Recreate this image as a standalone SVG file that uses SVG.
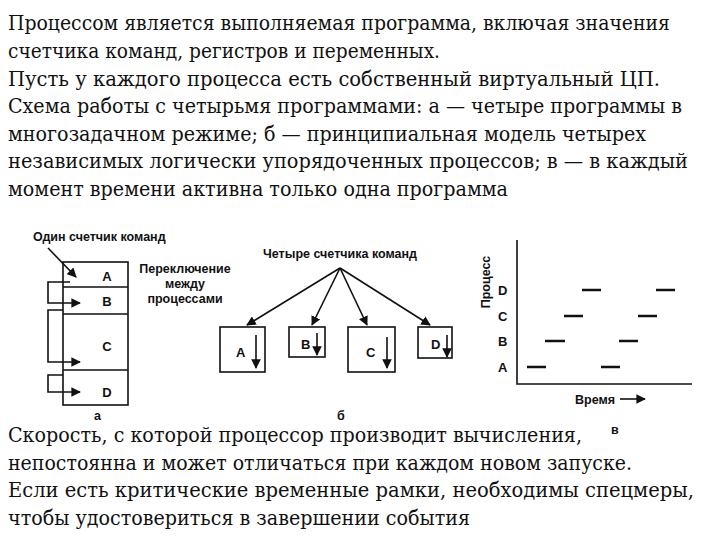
<svg xmlns="http://www.w3.org/2000/svg" width="720" height="540" viewBox="0 0 720 540">
<defs>
<style>
.t{font-family:"DejaVu Serif","Liberation Serif",serif;font-size:20px;fill:#111}
.s{font-family:"Liberation Sans",Arial,sans-serif;font-size:12.5px;font-weight:bold;fill:#111}
.l{font-family:"Liberation Sans",Arial,sans-serif;font-size:13px;font-weight:bold;fill:#111}
.b{fill:#fff;stroke:#111;stroke-width:1.6}
.c{fill:none;stroke:#111;stroke-width:1.6}
</style>
<marker id="ah" viewBox="0 0 10 10" refX="9" refY="5" markerWidth="6" markerHeight="6" orient="auto"><path d="M0,0L10,5L0,10z" fill="#111"/></marker>
</defs>
<rect width="720" height="540" fill="#fff"/>
<g id="text-top" class="t">
<text x="8" y="30" textLength="662" lengthAdjust="spacingAndGlyphs">Процессом является выполняемая программа, включая значения</text>
<text x="8" y="58" textLength="432" lengthAdjust="spacingAndGlyphs">счетчика команд, регистров и переменных.</text>
<text x="8" y="86" textLength="652" lengthAdjust="spacingAndGlyphs">Пусть у каждого процесса есть собственный виртуальный ЦП.</text>
<text x="8" y="113" textLength="674" lengthAdjust="spacingAndGlyphs">Схема работы с четырьмя программами: а — четыре программы в</text>
<text x="8" y="141" textLength="638" lengthAdjust="spacingAndGlyphs">многозадачном режиме; б — принципиальная модель четырех</text>
<text x="8" y="168" textLength="680" lengthAdjust="spacingAndGlyphs">независимых логически упорядоченных процессов; в — в каждый</text>
<text x="8" y="196" textLength="500" lengthAdjust="spacingAndGlyphs">момент времени активна только одна программа</text>
</g>
<g id="diagram-a">
<text class="s" x="33" y="241">Один счетчик команд</text>
<rect class="b" x="63" y="262" width="65" height="143"/>
<path class="c" d="M63,287H128M63,314H128M63,370H128"/>
<text class="l" x="107" y="281" text-anchor="middle">A</text>
<text class="l" x="107" y="306" text-anchor="middle">B</text>
<text class="l" x="107" y="351" text-anchor="middle">C</text>
<text class="l" x="107" y="397" text-anchor="middle">D</text>
<text class="s" x="185" y="273" text-anchor="middle">Переключение</text>
<text class="s" x="185" y="288" text-anchor="middle">между</text>
<text class="s" x="185" y="303" text-anchor="middle">процессами</text>
</g>
<g id="diagram-b">
<text class="s" x="340" y="258" text-anchor="middle">Четыре счетчика команд</text>
<rect class="b" x="220" y="327" width="45" height="45"/>
<rect class="b" x="289" y="327" width="36" height="30"/>
<rect class="b" x="348" y="327" width="47" height="45"/>
<rect class="b" x="418" y="327" width="34" height="31"/>
<text class="l" x="236" y="357">A</text>
<text class="l" x="301" y="349">B</text>
<text class="l" x="366" y="357">C</text>
<text class="l" x="431" y="349">D</text>
</g>
<g id="diagram-c">
<path class="c" d="M517,240V384H692"/>
<text class="s" transform="translate(490,282) rotate(-90)" text-anchor="middle">Процесс</text>
<text class="l" x="498" y="295">D</text>
<text class="l" x="498" y="321">C</text>
<text class="l" x="498" y="346">B</text>
<text class="l" x="498" y="372">A</text>
<path stroke="#111" stroke-width="2.4" d="M527,367h19M601,367h19M545,341h20M619,341h19M564,316h19M638,316h19M582,290h19M656,290h19"/>
<text class="s" x="575" y="404">Время</text>
</g>
<g id="connectors" class="c">
<path d="M48,248L76,277" marker-end="url(#ah)"/>
<path d="M70,282H48V303H80" marker-end="url(#ah)"/>
<path d="M63,310H48V362H80" marker-end="url(#ah)"/>
<path d="M63,375H48V392H80" marker-end="url(#ah)"/>
<path d="M340,268L247,325" marker-end="url(#ah)"/>
<path d="M340,268L312,325" marker-end="url(#ah)"/>
<path d="M340,268L367,325" marker-end="url(#ah)"/>
<path d="M340,268L430,325" marker-end="url(#ah)"/>
<path d="M256,335V368" marker-end="url(#ah)"/>
<path d="M317,333V355" marker-end="url(#ah)"/>
<path d="M387,337V368" marker-end="url(#ah)"/>
<path d="M447,335V357" marker-end="url(#ah)"/>
<path d="M620,399H645" marker-end="url(#ah)"/>
</g>
<g id="captions" class="s" font-size="11">
<text x="94" y="420">а</text>
<text x="337" y="420">б</text>
<text x="611" y="434">в</text>
</g>
<g id="text-bottom" class="t">
<text x="8" y="442" textLength="574" lengthAdjust="spacingAndGlyphs">Скорость, с которой процессор производит вычисления,</text>
<text x="8" y="470" textLength="624" lengthAdjust="spacingAndGlyphs">непостоянна и может отличаться при каждом новом запуске.</text>
<text x="8" y="497" textLength="686" lengthAdjust="spacingAndGlyphs">Если есть критические временные рамки, необходимы спецмеры,</text>
<text x="8" y="525" textLength="462" lengthAdjust="spacingAndGlyphs">чтобы удостовериться в завершении события</text>
</g>
</svg>
